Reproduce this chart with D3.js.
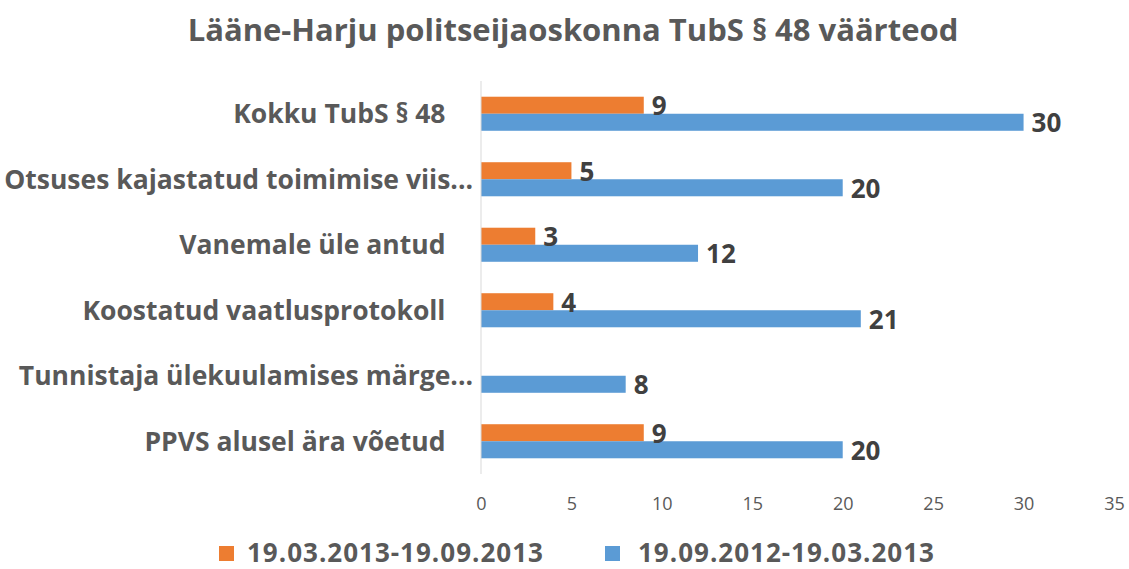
<!DOCTYPE html>
<html>
<head>
<meta charset="utf-8">
<script src="https://cdn.jsdelivr.net/npm/d3@7"></script>
<style>
  body { margin: 0; background: #fff; }
  text { font-family: "Open Sans", sans-serif; white-space: pre; }
</style>
</head>
<body>
<div id="chart"></div>
<script>
// Chart data
const categories = [
    "Kokku TubS § 48    ",
    "Otsuses kajastatud toimimise viis...",
    "Vanemale üle antud    ",
    "Koostatud vaatlusprotokoll    ",
    "Tunnistaja ülekuulamises märge...",
    "PPVS alusel ära võetud    "
];
const seriesNames = ["19.03.2013-19.09.2013", "19.09.2012-19.03.2013"];
const seriesOrange = [9, 5, 3, 4, null, 9];
const seriesBlue = [30, 20, 12, 21, 8, 20];
const xTicks = [0, 5, 10, 15, 20, 25, 30, 35];
const colors = ["#ed7d31", "#5b9bd5"];

const width = 1129;
const height = 569;

const svg = d3.select("#chart")
    .append("svg")
    .attr("width", width)
    .attr("height", height);

// Title
svg.append("text")
    .attr("x", 573)
    .attr("y", 41)
    .attr("text-anchor", "middle")
    .attr("font-size", 31)
    .attr("font-weight", "bold")
    .attr("fill", "#595959")
    .text("Lääne-Harju politseijaoskonna TubS § 48 väärteod");

// Scales
const xScale = d3.scaleLinear()
    .domain([0, 35])
    .range([481, 1114]);

const yScale = d3.scaleBand()
    .domain(categories)
    .range([81, 474])
    .paddingInner(0.48)
    .paddingOuter(0.24);

const ySub = d3.scaleBand()
    .domain([0, 1])
    .range([0, yScale.bandwidth()]);

// Rows of data
const rows = categories.map((c, i) => ({
    name: c,
    values: [seriesOrange[i], seriesBlue[i]]
}));

// Bars
const groups = svg.selectAll(".row")
    .data(rows)
    .enter()
    .append("g")
    .attr("class", "row")
    .attr("transform", d => `translate(0, ${yScale(d.name)})`);

groups.selectAll("rect")
    .data(d => d.values.map((v, k) => ({ v, k })).filter(e => e.v != null))
    .enter()
    .append("rect")
    .attr("x", xScale(0))
    .attr("y", e => ySub(e.k))
    .attr("width", e => xScale(e.v) - xScale(0))
    .attr("height", ySub.bandwidth())
    .attr("fill", e => colors[e.k]);

// Value labels
groups.selectAll(".val")
    .data(d => d.values.map((v, k) => ({ v, k })).filter(e => e.v != null))
    .enter()
    .append("text")
    .attr("class", "val")
    .attr("x", e => xScale(e.v) + 8)
    .attr("y", e => ySub(e.k) + ySub.bandwidth() / 2 + 1)
    .attr("dy", "0.35em")
    .attr("font-size", 26)
    .attr("font-weight", "bold")
    .attr("fill", "#404040")
    .text(e => e.v);

// Y axis line and category labels
svg.append("line")
    .attr("x1", xScale(0))
    .attr("x2", xScale(0))
    .attr("y1", 81)
    .attr("y2", 474)
    .attr("stroke", "#d9d9d9")
    .attr("stroke-width", 1);

svg.selectAll(".cat")
    .data(categories)
    .enter()
    .append("text")
    .attr("class", "cat")
    .attr("x", 473)
    .attr("y", d => yScale(d) + yScale.bandwidth() / 2)
    .attr("dy", "0.35em")
    .attr("text-anchor", "end")
    .attr("font-size", 26.5)
    .attr("font-weight", "bold")
    .attr("fill", "#595959")
    .text(d => d);

// X axis (labels only)
const xAxis = svg.append("g")
    .attr("transform", "translate(0, 497)")
    .call(d3.axisBottom(xScale).tickValues(xTicks).tickSize(0).tickPadding(0));
xAxis.select(".domain").remove();
xAxis.selectAll("text")
    .attr("font-family", "'Open Sans', sans-serif")
    .attr("font-size", 18)
    .attr("fill", "#595959");

// Legend
const legendSwatchX = [219, 605];
const legendTextX = [247, 638];
const legend = svg.selectAll(".legend")
    .data(seriesNames)
    .enter()
    .append("g")
    .attr("class", "legend");

legend.append("rect")
    .attr("x", (d, i) => legendSwatchX[i])
    .attr("y", 546)
    .attr("width", 15)
    .attr("height", 15)
    .attr("fill", (d, i) => colors[i]);

legend.append("text")
    .attr("x", (d, i) => legendTextX[i])
    .attr("y", 562)
    .attr("font-size", 26)
    .attr("letter-spacing", 1)
    .attr("font-weight", "bold")
    .attr("fill", "#595959")
    .text(d => d);
</script>
</body>
</html>
